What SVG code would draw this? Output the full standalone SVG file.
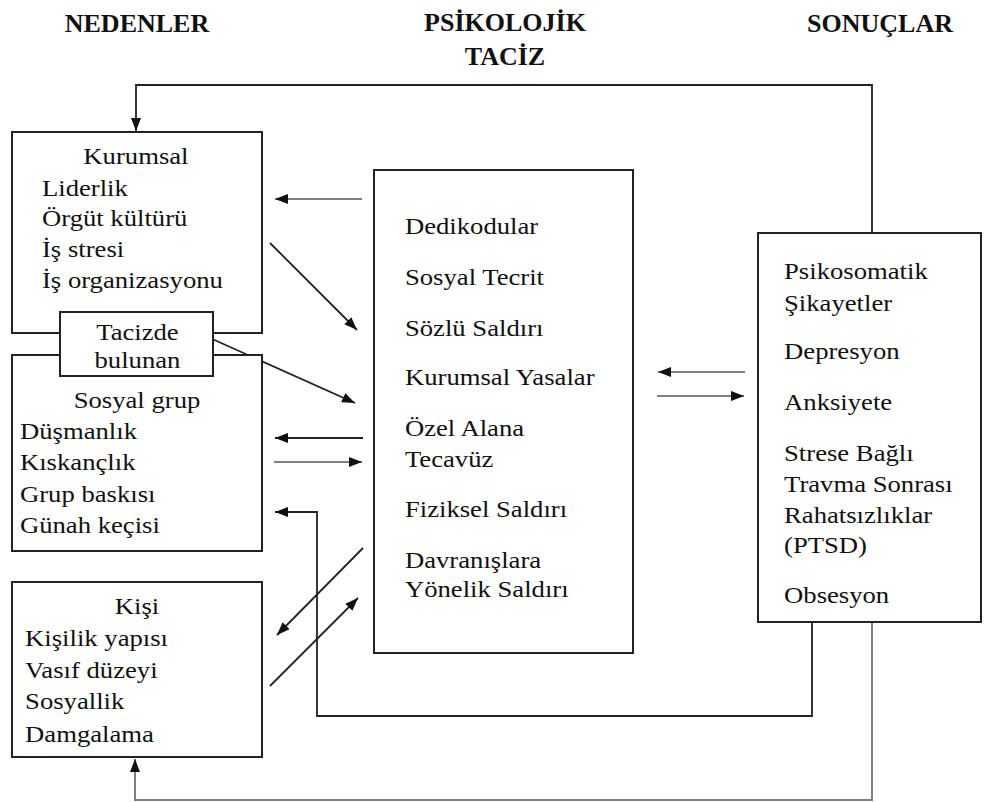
<svg xmlns="http://www.w3.org/2000/svg" width="990" height="802" viewBox="0 0 990 802">
<style>
.t{font-family:"Liberation Serif","Times New Roman",serif;font-size:23px;fill:#111}
.h{font-family:"Liberation Serif","Times New Roman",serif;font-size:26px;font-weight:bold;fill:#111;text-anchor:middle}
.c{text-anchor:middle}
.box{fill:#fff;stroke:#222;stroke-width:2}
.ln{fill:none;stroke:#222;stroke-width:1.8}
.gr{fill:none;stroke:#808080;stroke-width:2}
</style>
<defs>
<marker id="ah" markerUnits="userSpaceOnUse" markerWidth="13" markerHeight="10" refX="13" refY="5" orient="auto">
<path d="M0,0 L13,5 L0,10 z" fill="#111"/>
</marker>
</defs>
<rect width="990" height="802" fill="#fff"/>

<g id="headers">
<text class="h" x="137" y="32">NEDENLER</text>
<text class="h" x="505" y="31">PSİKOLOJİK</text>
<text class="h" x="505" y="65">TACİZ</text>
<text class="h" x="880" y="32">SONUÇLAR</text>
</g>

<g id="connectors">
<polyline class="ln" points="872,233 872,85 136,85 136,131" marker-end="url(#ah)"/>
<polyline class="gr" points="872,622 872,800 135,800 135,759" marker-end="url(#ah)"/>
<polyline class="ln" points="812,622 812,716 317,716 317,512 275,512" marker-end="url(#ah)"/>
<line class="gr" x1="362" y1="199" x2="275" y2="199" marker-end="url(#ah)"/>
<line class="ln" x1="270" y1="243" x2="357" y2="330" marker-end="url(#ah)"/>
<line class="ln" x1="210" y1="338" x2="355" y2="403" marker-end="url(#ah)"/>
<line class="ln" x1="363" y1="438" x2="275" y2="438" marker-end="url(#ah)"/>
<line class="gr" x1="274" y1="462" x2="362" y2="462" marker-end="url(#ah)"/>
<line class="ln" x1="363" y1="548" x2="277" y2="635" marker-end="url(#ah)"/>
<line class="ln" x1="270" y1="686" x2="358" y2="598" marker-end="url(#ah)"/>
<line class="gr" x1="745" y1="372" x2="658" y2="372" marker-end="url(#ah)"/>
<line class="gr" x1="657" y1="396" x2="744" y2="396" marker-end="url(#ah)"/>
</g>

<g id="kurumsal">
<rect class="box" x="12" y="132" width="250" height="201"/>
<g transform="scale(1.16 1)">
<text class="t c" x="117.2" y="164">Kurumsal</text>
<text class="t" x="36.2" y="196">Liderlik</text>
<text class="t" x="36.2" y="226">Örgüt kültürü</text>
<text class="t" x="36.2" y="257">İş stresi</text>
<text class="t" x="36.2" y="288">İş organizasyonu</text>
</g>
</g>

<g id="sosyal-grup">
<rect class="box" x="12" y="355" width="250" height="196"/>
<g transform="scale(1.16 1)">
<text class="t c" x="118.1" y="408">Sosyal grup</text>
<text class="t" x="17.2" y="439">Düşmanlık</text>
<text class="t" x="17.2" y="470">Kıskançlık</text>
<text class="t" x="17.2" y="502">Grup baskısı</text>
<text class="t" x="17.2" y="533">Günah keçisi</text>
</g>
</g>

<g id="tacizde-bulunan">
<rect class="box" x="60" y="312" width="153" height="64"/>
<g transform="scale(1.16 1)">
<text class="t c" x="118.5" y="340">Tacizde</text>
<text class="t c" x="118.5" y="368">bulunan</text>
</g>
</g>

<g id="kisi">
<rect class="box" x="12" y="582" width="250" height="175"/>
<g transform="scale(1.16 1)">
<text class="t c" x="118.1" y="614">Kişi</text>
<text class="t" x="21.6" y="646">Kişilik yapısı</text>
<text class="t" x="21.6" y="678">Vasıf düzeyi</text>
<text class="t" x="21.6" y="709">Sosyallik</text>
<text class="t" x="21.6" y="742">Damgalama</text>
</g>
</g>

<g id="psikolojik-taciz">
<rect class="box" x="374" y="170" width="259" height="483"/>
<g transform="scale(1.16 1)">
<text class="t" x="349.1" y="234">Dedikodular</text>
<text class="t" x="349.1" y="285">Sosyal Tecrit</text>
<text class="t" x="349.1" y="336">Sözlü Saldırı</text>
<text class="t" x="349.1" y="385">Kurumsal Yasalar</text>
<text class="t" x="349.1" y="436">Özel Alana</text>
<text class="t" x="349.1" y="467">Tecavüz</text>
<text class="t" x="349.1" y="517">Fiziksel Saldırı</text>
<text class="t" x="349.1" y="568">Davranışlara</text>
<text class="t" x="349.1" y="597">Yönelik Saldırı</text>
</g>
</g>

<g id="sonuclar">
<rect class="box" x="758" y="233" width="223" height="389"/>
<g transform="scale(1.16 1)">
<text class="t" x="675.9" y="279">Psikosomatik</text>
<text class="t" x="675.9" y="311">Şikayetler</text>
<text class="t" x="675.9" y="359">Depresyon</text>
<text class="t" x="675.9" y="410">Anksiyete</text>
<text class="t" x="675.9" y="461">Strese Bağlı</text>
<text class="t" x="675.9" y="492">Travma Sonrası</text>
<text class="t" x="675.9" y="523">Rahatsızlıklar</text>
<text class="t" x="675.9" y="553">(PTSD)</text>
<text class="t" x="675.9" y="603">Obsesyon</text>
</g>
</g>
</svg>
